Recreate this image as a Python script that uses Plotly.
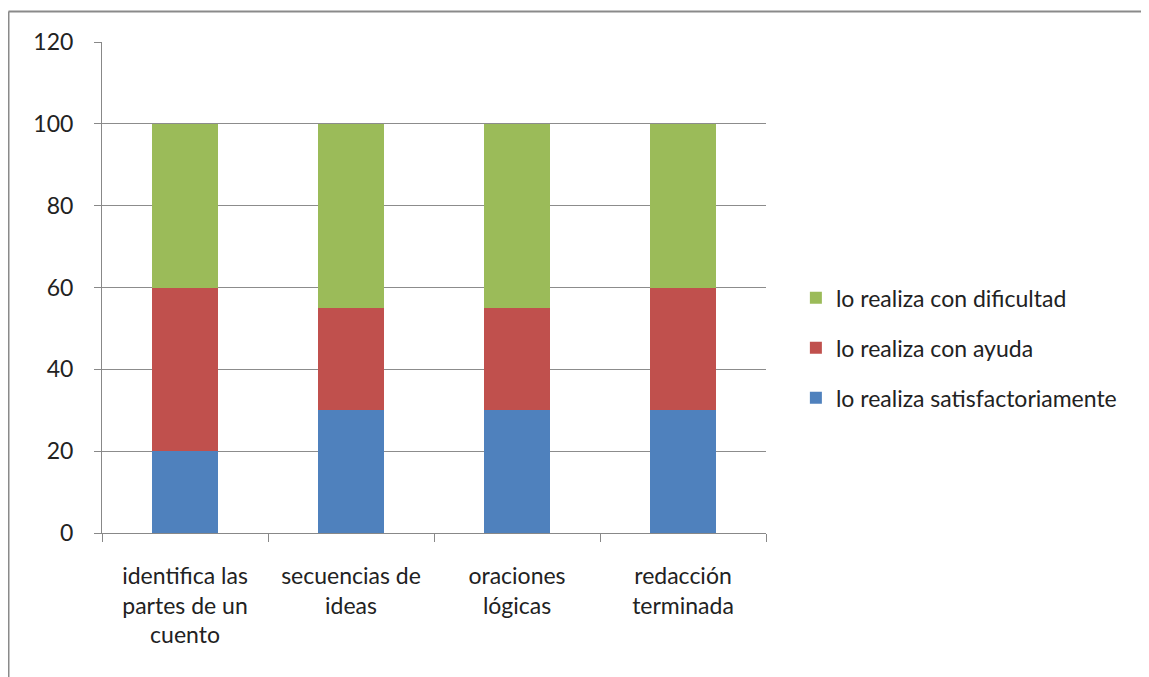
import plotly.graph_objects as go

categories = ["identifica las<br>partes de un<br>cuento", "secuencias de<br>ideas", "oraciones<br>lógicas", "redacción<br>terminada"]
satisfactoriamente = [20, 30, 30, 30]
con_ayuda = [40, 25, 25, 30]
con_dificultad = [40, 45, 45, 40]
y_ticks = [0, 20, 40, 60, 80, 100, 120]

font_family = "Lato, 'Open Sans', sans-serif"

fig = go.Figure()
series = [
    ("lo realiza satisfactoriamente", satisfactoriamente, "#4F81BD", 3),
    ("lo realiza con ayuda", con_ayuda, "#C0504D", 2),
    ("lo realiza con dificultad", con_dificultad, "#9BBB59", 1),
]
for name, vals, color, rank in series:
    fig.add_trace(go.Bar(x=categories, y=vals, name=name, marker=dict(color=color, line=dict(width=0)),
                         width=0.4, legendgroup=name, legendrank=rank))

W, H = 1141, 669
bx0 = (0.5 - 94) / 664
by1 = (525 - 3.5) / 491
fig.update_layout(
    barmode="stack",
    width=W, height=H,
    margin=dict(l=94, r=W - 758, t=34, b=H - 525),
    paper_bgcolor="white", plot_bgcolor="white",
    font=dict(family=font_family, size=23, color="#222222"),
    showlegend=True,
    legend=dict(x=1.045, y=0.377, xanchor="left", yanchor="middle",
                traceorder="grouped", tracegroupgap=17,
                font=dict(size=23, color="#222222"), itemwidth=30),
    xaxis=dict(showline=True, linecolor="#888888", linewidth=1, ticks="outside", ticklen=8,
               tickcolor="#888888", tickson="boundaries", showgrid=False,
               tickfont=dict(size=23, color="#222222"), ticklabelstandoff=22),
    yaxis=dict(range=[0, 120], tickvals=y_ticks, showline=True, linecolor="#888888", linewidth=1,
               ticks="outside", ticklen=7, tickcolor="#888888", showgrid=True,
               gridcolor="#8c8c8c", gridwidth=1, zeroline=False,
               tickfont=dict(size=23, color="#222222"), ticklabelstandoff=16),
    shapes=[
        dict(type="line", xref="paper", yref="paper", x0=bx0, x1=bx0, y0=-0.4, y1=by1,
             line=dict(color="#8a8a8a", width=2), layer="below"),
        dict(type="line", xref="paper", yref="paper", x0=bx0, x1=1.8, y0=by1, y1=by1,
             line=dict(color="#8a8a8a", width=2), layer="below"),
    ],
)

fig.write_html("out.html")
